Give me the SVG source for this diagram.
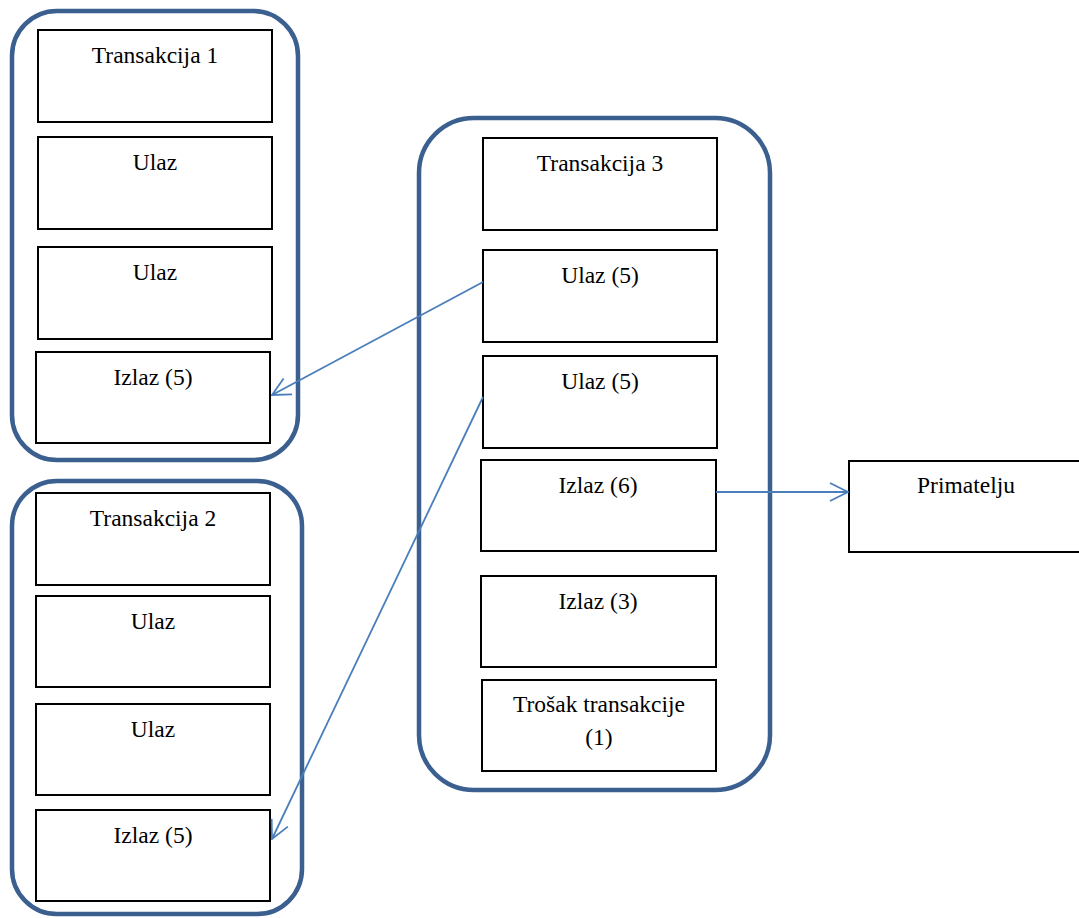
<svg xmlns="http://www.w3.org/2000/svg" width="1079" height="918" viewBox="0 0 1079 918">
<defs>
<style>
.grp{fill:none;stroke:#3b6090;stroke-width:4.5}
.box{fill:#fff;stroke:#000;stroke-width:2}
.t{font-family:"Liberation Serif","Times New Roman",serif;font-size:23.5px;fill:#000;text-anchor:middle}
.c{fill:none;stroke:#4a7ebb;stroke-width:1.8}
</style>
<marker id="ah" viewBox="0 0 20 20" refX="19" refY="10" markerWidth="20" markerHeight="20" markerUnits="userSpaceOnUse" orient="auto">
<path d="M1,1 L19,10 L1,19" fill="none" stroke="#4a7ebb" stroke-width="1.8"/>
</marker>
</defs>
<rect width="1079" height="918" fill="#fff"/>
<g id="tx1">
<rect class="grp" x="12" y="11" width="286" height="449" rx="45"/>
<g id="tx1-head"><rect class="box" x="38" y="30" width="234" height="92"/><text class="t" x="155" y="63">Transakcija 1</text></g>
<g id="tx1-in1"><rect class="box" x="38" y="137" width="234" height="92"/><text class="t" x="155" y="170">Ulaz</text></g>
<g id="tx1-in2"><rect class="box" x="38" y="247" width="234" height="92"/><text class="t" x="155" y="280">Ulaz</text></g>
<g id="tx1-out"><rect class="box" x="36" y="352" width="234" height="91"/><text class="t" x="153" y="385">Izlaz (5)</text></g>
</g>
<g id="tx2">
<rect class="grp" x="12" y="481" width="290" height="433" rx="45"/>
<g id="tx2-head"><rect class="box" x="36" y="493" width="234" height="92"/><text class="t" x="153" y="526">Transakcija 2</text></g>
<g id="tx2-in1"><rect class="box" x="36" y="596" width="234" height="91"/><text class="t" x="153" y="629">Ulaz</text></g>
<g id="tx2-in2"><rect class="box" x="36" y="704" width="234" height="91"/><text class="t" x="153" y="737">Ulaz</text></g>
<g id="tx2-out"><rect class="box" x="36" y="810" width="234" height="91"/><text class="t" x="153" y="843">Izlaz (5)</text></g>
</g>
<g id="tx3">
<rect class="grp" x="419" y="118" width="351" height="672" rx="55"/>
<g id="tx3-head"><rect class="box" x="483" y="138" width="234" height="92"/><text class="t" x="600" y="171">Transakcija 3</text></g>
<g id="tx3-in1"><rect class="box" x="483" y="250" width="234" height="92"/><text class="t" x="600" y="283">Ulaz (5)</text></g>
<g id="tx3-in2"><rect class="box" x="483" y="356" width="234" height="92"/><text class="t" x="600" y="389">Ulaz (5)</text></g>
<g id="tx3-out1"><rect class="box" x="481" y="460" width="235" height="91"/><text class="t" x="598" y="493">Izlaz (6)</text></g>
<g id="tx3-out2"><rect class="box" x="481" y="576" width="235" height="91"/><text class="t" x="598" y="609">Izlaz (3)</text></g>
<g id="tx3-fee"><rect class="box" x="482" y="680" width="234" height="91"/><text class="t" x="599" y="712">Trošak transakcije</text><text class="t" x="599" y="745">(1)</text></g>
</g>
<g id="recipient">
<rect class="box" x="849" y="461" width="250" height="91"/><text class="t" x="966" y="493">Primatelju</text>
</g>
<g id="connectors">
<line class="c" x1="483" y1="282" x2="272" y2="395" marker-end="url(#ah)"/>
<line class="c" x1="483" y1="397" x2="272" y2="839" marker-end="url(#ah)"/>
<line class="c" x1="716" y1="492" x2="848" y2="492" marker-end="url(#ah)"/>
</g>
</svg>
